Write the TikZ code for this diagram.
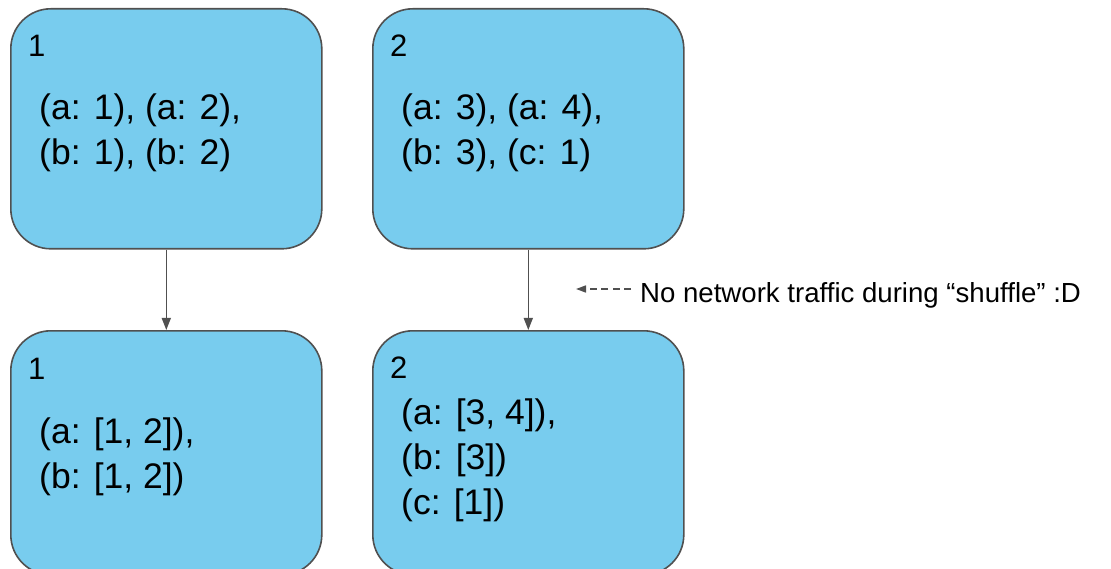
\documentclass[tikz,border=0pt]{standalone}
\usepackage{fontspec}
\setmainfont{Liberation Sans}
\usetikzlibrary{arrows.meta}
\definecolor{boxfill}{HTML}{78CCEE}
\definecolor{edge}{HTML}{505050}
\tikzset{
  part/.style={draw=edge, line width=1.6pt, fill=boxfill, rounded corners=40pt,
    minimum width=311pt, minimum height=240pt, anchor=north west, inner sep=0pt},
  tag/.style={anchor=base west, inner sep=0pt, font=\fontsize{31}{37}\selectfont},
  % multi-line text: the base anchor sits on the last line's baseline
  pairs/.style={anchor=base west, inner sep=0pt, align=left,
    font=\fontsize{35.5}{45}\selectfont},
  flow/.style={draw=edge, line width=1.4pt, -{Triangle[length=12pt, width=9pt]}},
  hint/.style={draw=edge, line width=1.6pt, dash pattern=on 7pt off 4.5pt,
    -{Triangle[length=10pt, width=7pt]}},
  note/.style={anchor=base west, inner sep=0pt, font=\fontsize{27.6}{33}\selectfont}
}
\begin{document}
\begin{tikzpicture}[x=1pt, y=-1pt]
\useasboundingbox (0,0) rectangle (1111,569);
% map side partitions
\node[part] (m1) at (10,8) {};
\node[part] (m2) at (372,8) {};
% grouped partitions
\node[part, minimum height=244pt] (g1) at (10,330) {};
\node[part, minimum height=244pt] (g2) at (372,330) {};
% partition numbers
\node[tag] (m1t) at (28,57) {1};
\node[tag] (m2t) at (390,57) {2};
\node[tag] (g1t) at (28,379) {1};
\node[tag] (g2t) at (390,378) {2};
% key/value contents
\node[pairs] (m1p) at (39,165) {(a: 1), (a: 2),\\(b: 1), (b: 2)};
\node[pairs] (m2p) at (401,165) {(a: 3), (a: 4),\\(b: 3), (c: 1)};
\node[pairs] (g1p) at (39,488) {(a: [1, 2]),\\(b: [1, 2])};
\node[pairs] (g2p) at (401,514) {(a: [3, 4]),\\(b: [3])\\(c: [1])};
% local grouping
\draw[flow] (m1.south) -- (g1.north);
\draw[flow] (m2.south) -- (g2.north);
% remark
\node[note] (rem) at (640,302) {No network traffic during “shuffle” :D};
\coordinate (tip) at (576,289);
\draw[hint] (rem.west |- tip) ++(-9,0) -- (tip);
\end{tikzpicture}
\end{document}
